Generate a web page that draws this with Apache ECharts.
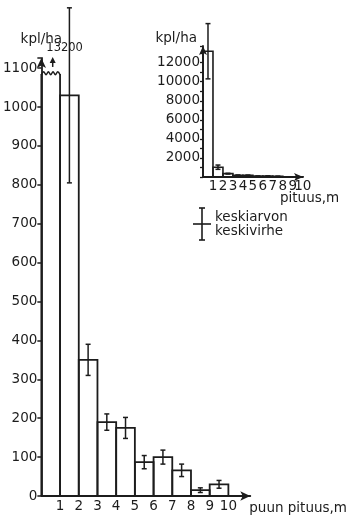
<!DOCTYPE html>
<html><head><meta charset="utf-8">
<script src="https://cdn.jsdelivr.net/npm/echarts@6/dist/echarts.min.js"></script>
<style>html,body{margin:0;padding:0;background:#fff}#c{width:350px;height:515px}</style>
</head><body><div id="c"></div>
<script>
// ---- data ----
const binStarts = [0, 1, 2, 3, 4, 5, 6, 7, 8, 9];
const binEnds   = [1, 2, 3, 4, 5, 6, 7, 8, 9, 10];
const means     = [13200, 1030, 350, 190, 175, 87, 100, 66, 15, 30];
const stdErrs   = [2900, 225, 40, 21, 27, 17, 18, 16, 6, 10];
const xTickLabels = ['1', '2', '3', '4', '5', '6', '7', '8', '9', '10'];
const mainYTicks  = [0, 100, 200, 300, 400, 500, 600, 700, 800, 900, 1000, 1100];
const insetYTicks = [2000, 4000, 6000, 8000, 10000, 12000];
const yName = 'kpl/ha';
const mainXName = 'puun pituus,m';
const insetXName = 'pituus,m';
const legendLines = ['keskiarvon', 'keskivirhe'];

// ---- style / layout ----
const INK = '#1c1c1c';
const FONT = 'DejaVu Sans';
const FS = 13.5;
const MAIN_BREAK = 1085;

const seriesData = binStarts.map((s, i) => [s, binEnds[i], means[i], stdErrs[i]]);

function renderItem(params, api) {
  const isMain = params.seriesIndex === 0;
  const x0 = api.value(0), x1 = api.value(1), m = api.value(2), e = api.value(3);
  const cap = isMain ? MAIN_BREAK : Infinity;
  const pL = api.coord([x0, 0]), pR = api.coord([x1, 0]);
  const shown = Math.min(m, cap);
  const top = api.coord([x0, shown])[1];
  const lw = isMain ? 1.8 : 1.6;
  const st = { stroke: INK, lineWidth: lw, fill: null };
  const children = [];
  if (m > cap) {
    // broken bar: wavy top + arrow + true value
    children.push({ type: 'line', shape: { x1: pL[0], y1: pL[1], x2: pL[0], y2: top }, style: st });
    children.push({ type: 'line', shape: { x1: pR[0], y1: pR[1], x2: pR[0], y2: top }, style: st });
    const pts = [];
    const n = 8, w = pR[0] - pL[0];
    for (let k = 0; k <= n; k++) pts.push([pL[0] + w * k / n, top + (k % 2 ? -2.2 : 0.8)]);
    children.push({ type: 'polyline', shape: { points: pts, smooth: 0.4 }, style: { stroke: INK, lineWidth: 1.5, fill: null } });
    const cx = (pL[0] + pR[0]) / 2 + 2;
    children.push({ type: 'polygon', shape: { points: [[cx, top - 17], [cx - 3, top - 11], [cx + 3, top - 11]] }, style: { fill: INK } });
    children.push({ type: 'line', shape: { x1: cx, y1: top - 12, x2: cx, y2: top - 7 }, style: { stroke: INK, lineWidth: 1.5 } });
    children.push({ type: 'text', style: { text: String(m), x: pL[0] + 5, y: top - 26, fill: INK, font: '11.5px "' + FONT + '"', align: 'left', verticalAlign: 'middle' } });
  } else {
    children.push({ type: 'polyline', shape: { points: [[pL[0], pL[1]], [pL[0], top], [pR[0], top], [pR[0], pR[1]]] }, style: st });
    const cx = api.coord([(x0 + x1) / 2, m])[0];
    const hi = api.coord([x0, m + e])[1];
    const lo = api.coord([x0, Math.max(0, m - e)])[1];
    const es = { stroke: INK, lineWidth: 1.5 };
    const cw = 2.5;
    children.push({ type: 'line', shape: { x1: cx, y1: hi, x2: cx, y2: lo }, style: es });
    children.push({ type: 'line', shape: { x1: cx - cw, y1: hi, x2: cx + cw, y2: hi }, style: es });
    children.push({ type: 'line', shape: { x1: cx - cw, y1: lo, x2: cx + cw, y2: lo }, style: es });
  }
  return { type: 'group', children };
}

const txt = { color: INK, fontFamily: FONT, fontSize: FS };
const axLine = (sz) => ({ show: true, lineStyle: { color: INK, width: 1.8 }, symbol: ['none', 'arrow'], symbolSize: sz });
const xFmt = v => (Number.isInteger(v) && v >= 1 && v <= 10) ? xTickLabels[v - 1] : '';

const chart = echarts.init(document.getElementById('c'), null, { renderer: 'canvas' });
chart.setOption({
  backgroundColor: '#ffffff',
  animation: false,
  grid: [
    { left: 37, right: 98, top: 58, bottom: 19 },
    { left: 203, right: 47, top: 46, bottom: 338 }
  ],
  xAxis: [
    {
      gridIndex: 0, type: 'value', min: 0, max: 11.17, interval: 1,
      axisLine: axLine([7, 10]), axisTick: { show: false }, splitLine: { show: false },
      axisLabel: Object.assign({}, txt, { margin: 3, showMaxLabel: false, showMinLabel: false, hideOverlap: false, formatter: xFmt }),
      name: mainXName, nameLocation: 'end', nameGap: -1, nameMoveOverlap: false,
      nameTextStyle: Object.assign({}, txt, { align: 'left', verticalAlign: 'top', padding: [5, 0, 0, 0] })
    },
    {
      gridIndex: 1, type: 'value', min: 0, max: 10.02, interval: 1,
      axisLine: axLine([6, 9]), axisTick: { show: false }, splitLine: { show: false },
      axisLabel: Object.assign({}, txt, { margin: 2, showMaxLabel: false, showMinLabel: false, hideOverlap: false, formatter: xFmt }),
      name: insetXName, nameLocation: 'end', nameGap: -23, nameMoveOverlap: false,
      nameTextStyle: Object.assign({}, txt, { align: 'left', verticalAlign: 'top', padding: [14, 0, 0, 0] })
    }
  ],
  yAxis: [
    {
      gridIndex: 0, type: 'value', min: 0, max: 1126, interval: 100,
      axisLine: axLine([7, 10]),
      axisTick: { show: true, length: 4, inside: false, lineStyle: { color: INK, width: 1.5 } },
      splitLine: { show: false },
      axisLabel: Object.assign({}, txt, { margin: 4, formatter: v => mainYTicks.includes(v) ? String(v) : '' }),
      name: yName, nameLocation: 'end', nameGap: 12, nameMoveOverlap: false,
      nameTextStyle: Object.assign({}, txt, { align: 'center', verticalAlign: 'bottom' })
    },
    {
      gridIndex: 1, type: 'value', min: 0, max: 13750, interval: 1000,
      axisLine: axLine([6, 9]),
      axisTick: { show: true, length: 3, inside: false, lineStyle: { color: INK, width: 1.3 } },
      splitLine: { show: false },
      axisLabel: Object.assign({}, txt, { margin: 3, formatter: v => insetYTicks.includes(v) ? String(v) : '' }),
      name: yName, nameLocation: 'end', nameGap: 8, nameMoveOverlap: false,
      nameTextStyle: Object.assign({}, txt, { align: 'right', verticalAlign: 'middle', padding: [0, 6, 0, 0] })
    }
  ],
  series: [
    { type: 'custom', name: 'main', xAxisIndex: 0, yAxisIndex: 0, renderItem, data: seriesData, encode: { x: [0, 1], y: 2 }, clip: false, silent: true },
    { type: 'custom', name: 'inset', xAxisIndex: 1, yAxisIndex: 1, renderItem, data: seriesData, encode: { x: [0, 1], y: 2 }, clip: false, silent: true }
  ],
  graphic: [
    { type: 'line', shape: { x1: 202, y1: 208, x2: 202, y2: 240 }, style: { stroke: INK, lineWidth: 1.6 } },
    { type: 'line', shape: { x1: 199, y1: 208, x2: 205, y2: 208 }, style: { stroke: INK, lineWidth: 1.6 } },
    { type: 'line', shape: { x1: 199, y1: 240, x2: 205, y2: 240 }, style: { stroke: INK, lineWidth: 1.6 } },
    { type: 'line', shape: { x1: 193, y1: 224, x2: 211, y2: 224 }, style: { stroke: INK, lineWidth: 1.6 } },
    { type: 'text', x: 215, y: 217, style: { text: legendLines[0], fill: INK, font: FS + 'px "' + FONT + '"', verticalAlign: 'middle' } },
    { type: 'text', x: 215, y: 231, style: { text: legendLines[1], fill: INK, font: FS + 'px "' + FONT + '"', verticalAlign: 'middle' } }
  ]
});
</script>
</body></html>
